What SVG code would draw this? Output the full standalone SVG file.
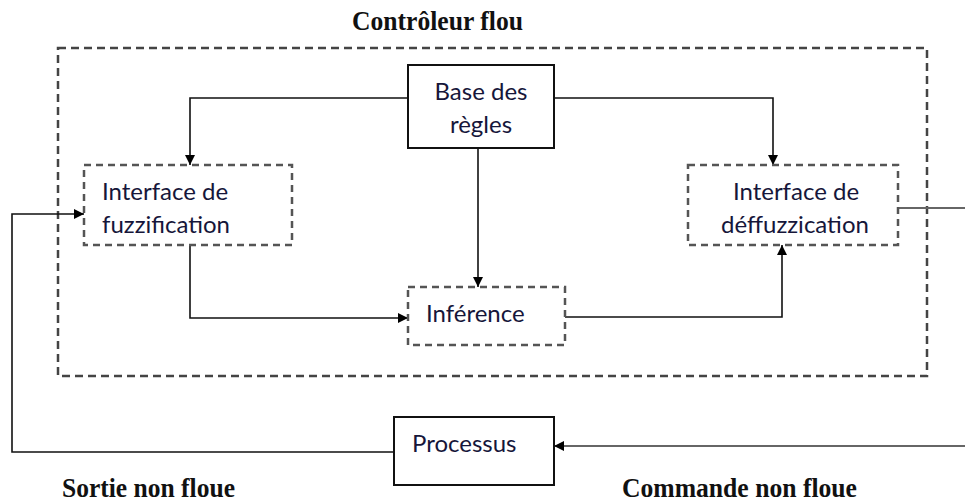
<svg xmlns="http://www.w3.org/2000/svg" width="965" height="503" viewBox="0 0 965 503">
<defs>
<marker id="arr" viewBox="0 0 10 10" refX="10" refY="5" markerWidth="10" markerHeight="10" markerUnits="userSpaceOnUse" orient="auto">
<path d="M0,0 L10,5 L0,10 z" fill="#000"/>
</marker>
</defs>
<style>
.lbl{font-family:Lato,"Open Sans",sans-serif;font-size:24px;fill:#16163a}
.ttl{font-family:"Liberation Serif","Times New Roman",serif;font-size:27px;font-weight:bold;fill:#111}
.solid{fill:#fff;stroke:#111;stroke-width:2}
.dash{fill:none;stroke:#555;stroke-width:2.5;stroke-dasharray:7 5}
.outer{fill:none;stroke:#444;stroke-width:2.5;stroke-dasharray:8 5}
.ln{fill:none;stroke:#111;stroke-width:1.6}
.gl{fill:none;stroke:#666;stroke-width:2}
</style>
<rect width="965" height="503" fill="#fff"/>
<g id="controleur">
<rect class="outer" x="58" y="48" width="869" height="328"/>
<text class="ttl" x="352" y="30" textLength="171" lengthAdjust="spacingAndGlyphs">Contrôleur flou</text>
</g>
<g id="connectors">
<path class="ln" d="M408,98 H190 V165" marker-end="url(#arr)"/>
<path class="ln" d="M554,98 H773 V165" marker-end="url(#arr)"/>
<path class="ln" d="M478,148 V287" marker-end="url(#arr)"/>
<path class="ln" d="M190,245 V318 H408" marker-end="url(#arr)"/>
<path class="ln" d="M565,317 H782 V245" marker-end="url(#arr)"/>
<path class="gl" d="M899,208 H965"/>
<path class="gl" d="M965,446 H554" marker-end="url(#arr)"/>
<path class="ln" d="M394,452 H12 V214 H84" marker-end="url(#arr)"/>
</g>
<g id="base">
<rect class="solid" x="408" y="65" width="146" height="83"/>
<text class="lbl" x="481" y="100" text-anchor="middle">Base des</text>
<text class="lbl" x="481" y="133" text-anchor="middle">règles</text>
</g>
<g id="fuzzification">
<rect class="dash" x="84" y="165" width="208" height="80"/>
<text class="lbl" x="102" y="200">Interface de</text>
<text class="lbl" x="102" y="233">fuzzification</text>
</g>
<g id="deffuzzification">
<rect class="dash" x="688" y="165" width="210" height="80"/>
<text class="lbl" x="796" y="200" text-anchor="middle">Interface de</text>
<text class="lbl" x="795" y="233" text-anchor="middle">déffuzzication</text>
</g>
<g id="inference">
<rect class="dash" x="408" y="287" width="157" height="58"/>
<text class="lbl" x="426" y="322">Inférence</text>
</g>
<g id="processus">
<rect class="solid" x="394" y="417" width="160" height="68"/>
<text class="lbl" x="412" y="452">Processus</text>
</g>
<g id="labels">
<text class="ttl" x="62" y="497" textLength="173" lengthAdjust="spacingAndGlyphs">Sortie non floue</text>
<text class="ttl" x="622" y="497" textLength="235" lengthAdjust="spacingAndGlyphs">Commande non floue</text>
</g>
</svg>
